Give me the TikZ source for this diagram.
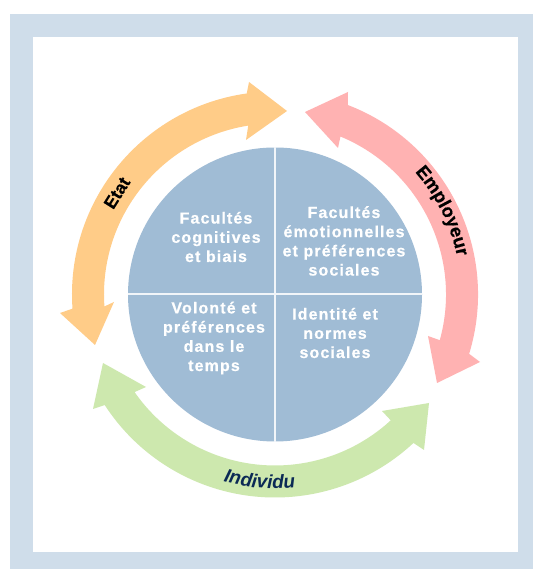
\documentclass[tikz,border=0pt]{standalone}
\usepackage{fontspec}
\setmainfont{Liberation Sans}
\newfontfamily\spaced[LetterSpace=7,BoldFeatures={FakeBold=0.7}]{Liberation Sans}
\newfontfamily\heavy[BoldFeatures={FakeBold=0.5}]{Liberation Sans}
\usetikzlibrary{decorations.text,calc}
\definecolor{framec}{HTML}{CFDDEA}
\definecolor{discc}{HTML}{A0BCD5}
\definecolor{etatc}{HTML}{FFCC88}
\definecolor{emplc}{HTML}{FFB2B2}
\definecolor{indic}{HTML}{CDE8AE}
\definecolor{navyc}{HTML}{0B2A55}
\tikzset{
  x=1pt,y=1pt,
  quad/.style={align=center,text=white,font=\spaced\bfseries\fontsize{16}{19.2}\selectfont,inner sep=0pt},
  curved/.style={decorate,decoration={text along path,text align=center,raise=0pt,text={#1}}}
}
\begin{document}
\begin{tikzpicture}
\useasboundingbox (0,0) rectangle (533,569);
\fill[white] (0,0) rectangle (533,569);
\fill[framec] (10,0) rectangle (533,555);
\fill[white] (33,17) rectangle (518,532);
\coordinate (c) at (275,274.5);
% Etat arrow
\fill[etatc] ($(c)+(184:203)$) arc[start angle=184,end angle=98,radius=203]
  -- (249,487) -- (287,458) -- (246,429) -- ($(c)+(99:171)$)
  arc[start angle=99,end angle=184,radius=171]
  -- (114,267) -- (95,224) -- (60,256) -- cycle;
% Employeur arrow
\fill[emplc] ($(c)+(69:203)$) arc[start angle=69,end angle=-17,radius=203]
  -- (480,207) -- (437,186) -- (428,233) -- ($(c)+(-15.5:171)$)
  arc[start angle=-15.5,end angle=67.5,radius=171]
  -- (338,421) -- (305,457) -- (348,477) -- cycle;
% Individu arrow
\fill[indic] ($(c)+(213:203)$) arc[start angle=213,end angle=313,radius=203]
  -- (424,119) -- (429,166) -- (382,158) -- ($(c)+(-47.4:171)$)
  arc[start angle=-47.4,end angle=-145.2,radius=171]
  -- (146,182) -- (103,206) -- (93,160) -- cycle;
% central disc
\node[circle,fill=discc,minimum size=294pt,inner sep=0pt] (disc) at (c) {};
\draw[white!85!discc,line width=2pt] (disc.north) -- (disc.south);
\draw[white!85!discc,line width=2pt] (disc.west) -- (disc.east);
% quadrant labels
\node[quad] (q1) at (216,332) {Facultés\\cognitives\\et biais};
\node[quad] (q2) at (344,328) {Facultés\\émotionnelles\\et préférences\\sociales};
\node[quad] (q3) at (214,231) {Volonté et\\préférences\\dans le\\temps};
\node[quad] (q4) at (335,236) {Identité et\\normes\\sociales};
% arrow labels
\node[rotate=58,font=\heavy\bfseries\fontsize{17.5}{20}\selectfont,inner sep=0pt] (etat) at (117,376) {Etat};
\path[curved={|\heavy\bfseries\fontsize{18.5}{20}\selectfont|Employeur}] ($(c)+(58:186)$) arc[start angle=58,end angle=-5,radius=186];
\path[curved={|\bfseries\itshape\color{navyc}\fontsize{19}{20}\selectfont|Individu}] ($(c)+(238:194)$) arc[start angle=238,end angle=292.6,radius=194];
\end{tikzpicture}
\end{document}
